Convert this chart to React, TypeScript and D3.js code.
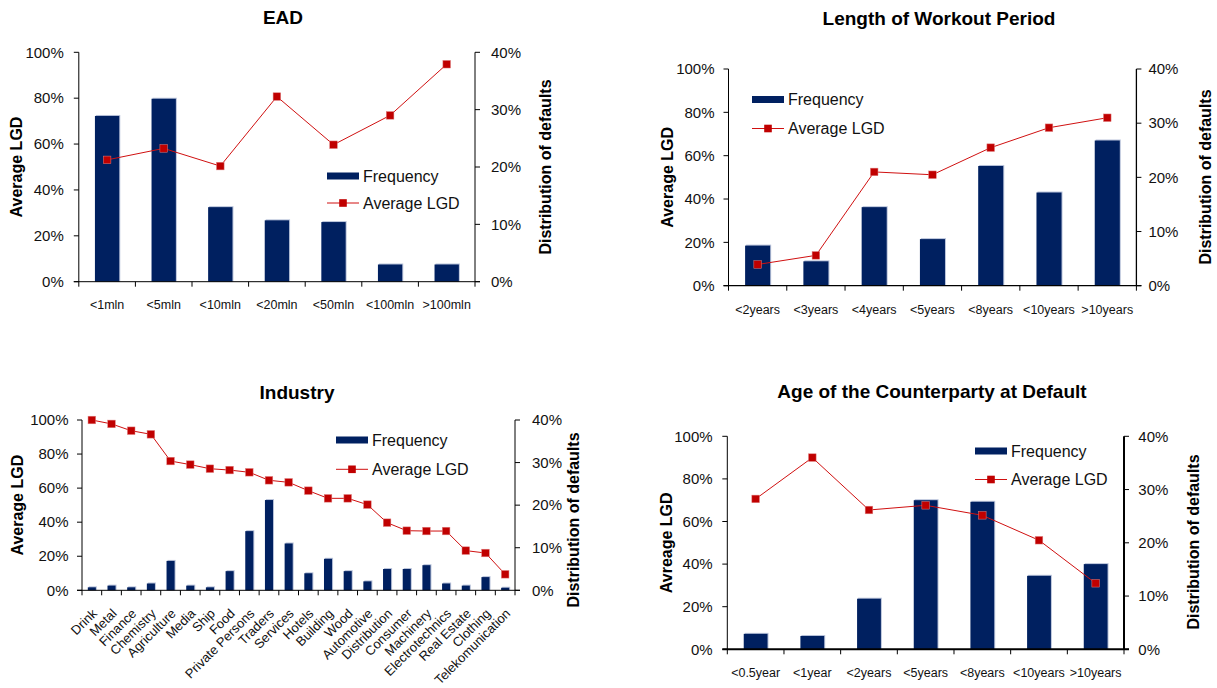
import React from "react";
import * as d3 from "d3";

// ---------- data ----------
const eadCategories = ["<1mln", "<5mln", "<10mln", "<20mln", "<50mln", "<100mln", ">100mln"];
const eadFrequency = [0.289, 0.319, 0.13, 0.107, 0.104, 0.03, 0.03];
const eadAvgLGD = [0.531, 0.581, 0.504, 0.807, 0.597, 0.725, 0.948];

const workoutCategories = ["<2years", "<3years", "<4years", "<5years", "<8years", "<10years", ">10years"];
const workoutFrequency = [0.074, 0.045, 0.145, 0.086, 0.221, 0.172, 0.268];
const workoutAvgLGD = [0.098, 0.14, 0.525, 0.512, 0.637, 0.729, 0.775];

const industryCategories = [
  "Drink", "Metal", "Finance", "Chemistry", "Agriculture", "Media", "Ship", "Food",
  "Private Persons", "Traders", "Services", "Hotels", "Building", "Wood", "Automotive",
  "Distribution", "Consumer", "Machinery", "Electrotechnics", "Real Estate", "Clothing",
  "Telekomunication",
];
const industryFrequency = [
  0.007, 0.011, 0.007, 0.016, 0.069, 0.011, 0.007, 0.045, 0.139, 0.212, 0.11, 0.04,
  0.074, 0.045, 0.021, 0.05, 0.05, 0.059, 0.016, 0.011, 0.031, 0.006,
];
const industryAvgLGD = [
  1.0, 0.977, 0.937, 0.916, 0.759, 0.738, 0.714, 0.706, 0.693, 0.646, 0.634, 0.585,
  0.54, 0.54, 0.503, 0.397, 0.35, 0.348, 0.348, 0.233, 0.219, 0.094,
];

const ageCategories = ["<0.5year", "<1year", "<2years", "<5years", "<8years", "<10years", ">10years"];
const ageFrequency = [0.029, 0.025, 0.095, 0.28, 0.277, 0.138, 0.16];
const ageAvgLGD = [0.706, 0.9, 0.654, 0.676, 0.629, 0.512, 0.31];

const lgdTicks = [0, 0.2, 0.4, 0.6, 0.8, 1.0];
const freqTicks = [0, 0.1, 0.2, 0.3, 0.4];

const FONT = "Arial, 'Liberation Sans', Helvetica, sans-serif";
const NAVY = "#002060";
const RED = "#c00000";
const LINE_RED = "#d01010";

type Layout = {
  x0: number; x1: number; y0: number; y1: number;
  titleX: number; titleY: number;
  leftTitleX: number; rightTitleX: number; rightTitleY: number;
  legendX: number; legendY: number; legendGap: number;
  barRatio: number; xLabelY: number; rotate: boolean;
  leftOff: number; rightOff: number; axisW: number;
};

type PanelProps = {
  title: string;
  leftTitle: string;
  rightTitle: string;
  categories: string[];
  frequency: number[];
  avgLGD: number[];
  L: Layout;
};

function Panel({ title, leftTitle, rightTitle, categories, frequency, avgLGD, L }: PanelProps) {
  const x = d3
    .scaleBand<string>()
    .domain(categories)
    .range([L.x0, L.x1])
    .paddingInner(1 - L.barRatio)
    .paddingOuter((1 - L.barRatio) / 2);
  const step = x.step();
  const yL = d3.scaleLinear().domain([0, 1]).range([L.y0, L.y1]);
  const yR = d3.scaleLinear().domain([0, 0.4]).range([L.y0, L.y1]);
  const fmt = d3.format(".0%");
  const line = d3
    .line<number>()
    .x((_, i) => (x(categories[i]) as number) + x.bandwidth() / 2)
    .y((d) => yL(d));
  const boundaries = d3.range(categories.length + 1).map((i) => L.x0 + i * step);
  const midY = (L.y0 + L.y1) / 2;

  return (
    <g fontFamily={FONT}>
      <text x={L.titleX} y={L.titleY} dy="0.35em" textAnchor="middle" fontWeight="bold" fontSize={19} fill="#000">
        {title}
      </text>
      {/* bars */}
      {categories.map((c, i) => {
        const bx = x(c) as number;
        const by = yR(frequency[i]);
        const h = L.y0 - by;
        return (
          <g key={c}>
            <rect x={bx + 1} y={by - 1} width={x.bandwidth()} height={h + 1} fill="#b9c3da" />
            <rect x={bx} y={by} width={x.bandwidth()} height={h} fill={NAVY} />
          </g>
        );
      })}
      {/* axes */}
      <line x1={L.x0} x2={L.x0} y1={L.y1} y2={L.y0} stroke="#000" strokeWidth={1} />
      <line x1={L.x1} x2={L.x1} y1={L.y1} y2={L.y0} stroke="#000" strokeWidth={L.axisW} />
      <line x1={L.x0 - 5} x2={L.x1 + 5} y1={L.y0} y2={L.y0} stroke="#000" strokeWidth={L.axisW} />
      {lgdTicks.map((t) => (
        <g key={"l" + t}>
          <line x1={L.x0 - 5} x2={L.x0} y1={yL(t)} y2={yL(t)} stroke="#000" />
          <text x={L.x0 - L.leftOff} y={yL(t)} dy="0.35em" textAnchor="end" fontSize={15} fill="#111">
            {fmt(t)}
          </text>
        </g>
      ))}
      {freqTicks.map((t) => (
        <g key={"r" + t}>
          <line x1={L.x1} x2={L.x1 + 5} y1={yR(t)} y2={yR(t)} stroke="#000" />
          <text x={L.x1 + L.rightOff} y={yR(t)} dy="0.35em" textAnchor="start" fontSize={15} fill="#111">
            {fmt(t)}
          </text>
        </g>
      ))}
      {boundaries.map((bx, i) => (
        <line key={"b" + i} x1={bx} x2={bx} y1={L.y0} y2={L.y0 + 5} stroke="#000" />
      ))}
      {/* category labels */}
      {categories.map((c) => {
        const cx = (x(c) as number) + x.bandwidth() / 2;
        if (L.rotate) {
          const ax = cx + 6;
          const ay = L.y0 + 24;
          return (
            <text key={"t" + c} x={ax} y={ay} textAnchor="end" fontSize={13} fill="#111"
              transform={`rotate(-45, ${ax}, ${ay})`}>
              {c}
            </text>
          );
        }
        return (
          <text key={"t" + c} x={cx} y={L.xLabelY} dy="0.35em" textAnchor="middle" fontSize={12.5} fill="#111">
            {c}
          </text>
        );
      })}
      {/* line */}
      <path d={line(avgLGD) as string} fill="none" stroke={LINE_RED} strokeWidth={1} />
      {avgLGD.map((v, i) => {
        const cx = (x(categories[i]) as number) + x.bandwidth() / 2;
        return <rect key={"m" + i} x={cx - 3.8} y={yL(v) - 3.8} width={7.6} height={7.6} fill={RED} stroke="#e08080" strokeWidth={0.5} />;
      })}
      {/* axis titles */}
      <text transform={`translate(${L.leftTitleX}, ${midY}) rotate(-90)`} dy="0.35em" textAnchor="middle"
        fontWeight="bold" fontSize={16} fill="#000">
        {leftTitle}
      </text>
      <text transform={`translate(${L.rightTitleX}, ${L.rightTitleY}) rotate(-90)`} dy="0.35em" textAnchor="middle"
        fontWeight="bold" fontSize={16} fill="#000">
        {rightTitle}
      </text>
      {/* legend */}
      <rect x={L.legendX} y={L.legendY - 3.5} width={32} height={7} fill={NAVY} />
      <text x={L.legendX + 36} y={L.legendY} dy="0.35em" fontSize={16} fill="#111">Frequency</text>
      <line x1={L.legendX} x2={L.legendX + 32} y1={L.legendY + L.legendGap} y2={L.legendY + L.legendGap}
        stroke={LINE_RED} strokeWidth={1} />
      <rect x={L.legendX + 16 - 3.8} y={L.legendY + L.legendGap - 3.8} width={7.6} height={7.6} fill={RED} />
      <text x={L.legendX + 36} y={L.legendY + L.legendGap} dy="0.35em" fontSize={16} fill="#111">Average LGD</text>
    </g>
  );
}

const eadLayout: Layout = {
  x0: 78.8, x1: 475, y0: 281.7, y1: 52.3, titleX: 283, titleY: 17.5,
  leftTitleX: 16, rightTitleX: 545, rightTitleY: 167,
  legendX: 327, legendY: 176, legendGap: 27, barRatio: 0.43, xLabelY: 305, rotate: false,
  leftOff: 15, rightOff: 16, axisW: 1,
};
const workoutLayout: Layout = {
  x0: 728.5, x1: 1136.4, y0: 285.7, y1: 69, titleX: 939, titleY: 18.5,
  leftTitleX: 667, rightTitleX: 1205, rightTitleY: 177,
  legendX: 752, legendY: 99.5, legendGap: 29, barRatio: 0.43, xLabelY: 310, rotate: false,
  leftOff: 14, rightOff: 12, axisW: 1.3,
};
const industryLayout: Layout = {
  x0: 82, x1: 515, y0: 590.3, y1: 420, titleX: 297, titleY: 392.5,
  leftTitleX: 17, rightTitleX: 573, rightTitleY: 520,
  legendX: 336, legendY: 440, legendGap: 29.3, barRatio: 0.41, xLabelY: 0, rotate: true,
  leftOff: 13.5, rightOff: 17, axisW: 1,
};
const ageLayout: Layout = {
  x0: 727.3, x1: 1124, y0: 649.3, y1: 436.3, titleX: 932, titleY: 391,
  leftTitleX: 666, rightTitleX: 1193, rightTitleY: 542,
  legendX: 975, legendY: 451, legendGap: 28.5, barRatio: 0.42, xLabelY: 673, rotate: false,
  leftOff: 14.7, rightOff: 14.3, axisW: 2,
};

export default function App() {
  return (
    <svg width={1217} height={688} style={{ position: "absolute", left: 0, top: 0, background: "#fff" }}>
      <rect x={0} y={0} width={1217} height={688} fill="#fff" />
      <Panel title="EAD" leftTitle="Average LGD" rightTitle="Distribution of defaults"
        categories={eadCategories} frequency={eadFrequency} avgLGD={eadAvgLGD} L={eadLayout} />
      <Panel title="Length of Workout Period" leftTitle="Average LGD" rightTitle="Distribution of defaults"
        categories={workoutCategories} frequency={workoutFrequency} avgLGD={workoutAvgLGD} L={workoutLayout} />
      <Panel title="Industry" leftTitle="Average LGD" rightTitle="Distribution of defaults"
        categories={industryCategories} frequency={industryFrequency} avgLGD={industryAvgLGD} L={industryLayout} />
      <Panel title="Age of the Counterparty at Default" leftTitle="Avreage LGD" rightTitle="Distribution of defaults"
        categories={ageCategories} frequency={ageFrequency} avgLGD={ageAvgLGD} L={ageLayout} />
    </svg>
  );
}
